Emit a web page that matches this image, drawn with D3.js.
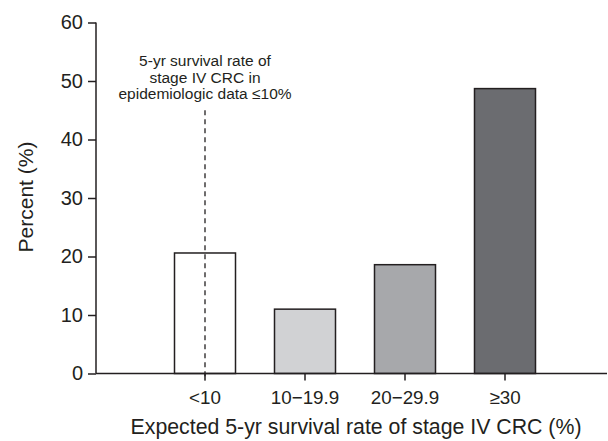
<!DOCTYPE html>
<html lang="en">
<head>
<meta charset="utf-8">
<title>Expected 5-yr survival</title>
<script src="https://cdn.jsdelivr.net/npm/d3@7"></script>
<style>
  body { margin: 0; background: #fff; }
  svg text { font-family: "Liberation Sans", Arial, sans-serif; fill: #231f20; }
  .axis path, .axis line { stroke: #231f20; stroke-width: 1.5; }
</style>
</head>
<body>
<script>
// data
var categories = ["<10", "10\u221219.9", "20\u221229.9", "\u226530"];
var percents = [20.6, 11.0, 18.6, 48.7];
var barColors = ["#ffffff", "#d1d2d4", "#a7a8ab", "#6b6c70"];
var yTicks = [0, 10, 20, 30, 40, 50, 60];
var noteLines = ["5-yr survival rate of", "stage IV CRC in", "epidemiologic data \u226410%"];
var noteFrom = 45; // top of the dashed line, in percent

var W = 608, H = 441;
var mLeft = 96, mRight = 607, mTop = 22.5, mBottom = 373.5;

var svg = d3.select("body").append("svg")
    .attr("width", W).attr("height", H);

var x = d3.scaleBand()
    .domain(categories)
    .range([155, 555])
    .paddingInner(0.39)
    .paddingOuter(0.195);

var y = d3.scaleLinear()
    .domain([0, 60])
    .range([mBottom, mTop]);

// bars
svg.selectAll("rect.bar").data(categories)
  .enter().append("rect")
    .attr("class", "bar")
    .attr("x", function(d) { return x(d); })
    .attr("width", x.bandwidth())
    .attr("y", function(d, i) { return y(percents[i]); })
    .attr("height", function(d, i) { return y(0) - y(percents[i]); })
    .attr("fill", function(d, i) { return barColors[i]; })
    .attr("stroke", "#231f20")
    .attr("stroke-width", 1.5);

// dashed reference line at the first category
var cx = x(categories[0]) + x.bandwidth() / 2;
svg.append("line")
    .attr("x1", cx).attr("x2", cx)
    .attr("y1", y(noteFrom)).attr("y2", y(0) + 7)
    .attr("stroke", "#231f20")
    .attr("stroke-width", 1.3)
    .attr("stroke-dasharray", "5,4");

svg.append("text")
    .attr("text-anchor", "middle")
    .attr("font-size", "15.5px")
    .selectAll("tspan").data(noteLines)
  .enter().append("tspan")
    .attr("x", cx)
    .attr("y", function(d, i) { return 66 + i * 16.6; })
    .text(function(d) { return d; });

// y axis
svg.append("g")
    .attr("class", "axis")
    .attr("transform", "translate(" + mLeft + ",0)")
    .call(d3.axisLeft(y).tickValues(yTicks).tickSize(8).tickPadding(5).tickSizeOuter(0))
    .call(function(g) { g.selectAll("text").attr("font-size", "20px").attr("fill", "#231f20"); })
    .call(function(g) { g.select(".domain").attr("d", "M0," + mTop + "V" + mBottom); });

// x axis
svg.append("g")
    .attr("class", "axis")
    .attr("transform", "translate(0," + mBottom + ")")
    .call(d3.axisBottom(x).tickSize(7).tickPadding(10).tickSizeOuter(0))
    .call(function(g) { g.selectAll("text").attr("font-size", "18.8px").attr("fill", "#231f20"); })
    .call(function(g) { g.select(".domain").attr("d", "M" + mLeft + ",0H" + mRight); });

// axis titles
svg.append("text")
    .attr("x", 356).attr("y", 434)
    .attr("text-anchor", "middle")
    .attr("font-size", "21.3px")
    .text("Expected 5-yr survival rate of stage IV CRC (%)");

svg.append("text")
    .attr("transform", "translate(33,197) rotate(-90)")
    .attr("text-anchor", "middle")
    .attr("font-size", "21px")
    .text("Percent (%)");
</script>
</body>
</html>
